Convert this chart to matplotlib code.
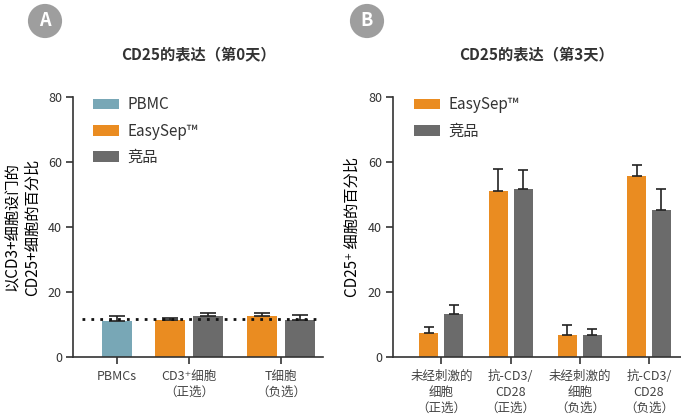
import matplotlib.pyplot as plt

plt.rcParams['font.family'] = ['Noto Sans CJK SC', 'DejaVu Sans']
plt.rcParams['text.color'] = '#333333'
plt.rcParams['axes.edgecolor'] = '#333333'
plt.rcParams['xtick.color'] = '#333333'
plt.rcParams['ytick.color'] = '#333333'

# Panel A: CD25 expression, day 0
a_labels = ['PBMCs', 'CD3⁺细胞\n（正选）', 'T细胞\n（负选）']
a_pbmc = [11.2]
a_pbmc_err = [1.3]
a_easysep = [11.5, 12.6]
a_easysep_err = [0.6, 1.0]
a_comp = [12.6, 11.5]
a_comp_err = [1.0, 1.4]
a_baseline = 11.6

# Panel B: CD25 expression, day 3
b_labels = ['未经刺激的\n细胞\n（正选）', '抗-CD3/\nCD28\n（正选）',
            '未经刺激的\n细胞\n（负选）', '抗-CD3/\nCD28\n（负选）']
b_easysep = [7.5, 51.0, 6.7, 55.6]
b_easysep_err = [1.8, 6.8, 3.0, 3.6]
b_comp = [13.2, 51.6, 6.7, 45.1]
b_comp_err = [2.7, 5.9, 1.8, 6.6]

c_pbmc = '#78A7B6'
c_easy = '#EA8C21'
c_comp = '#6B6B6B'

fig = plt.figure(figsize=(6.81, 4.17), dpi=100)
axA = fig.add_axes([73/681, 1-357/417, 250/681, 260/417])
axB = fig.add_axes([393/681, 1-357/417, 288/681, 260/417])

def style(ax):
    ax.set_ylim(0, 80)
    ax.set_yticks([0, 20, 40, 60, 80])
    ax.spines['top'].set_visible(False)
    ax.spines['right'].set_visible(False)
    for s in ['left', 'bottom']:
        ax.spines[s].set_linewidth(1.2)
    ax.tick_params(axis='y', length=5, width=1.2, labelsize=9, pad=3)
    ax.tick_params(axis='x', length=5, width=1.2, labelsize=9, pad=4, labelcolor='#444444')

def ebar(ax, x, y, e, cap):
    ax.errorbar(x, y, yerr=[[0] * len(e), e], fmt='none', ecolor='#222222',
                elinewidth=1.2, capsize=cap, capthick=1.2)

leg_kw = dict(loc='upper left', frameon=False, fontsize=11, handlelength=1.7,
              handleheight=0.7, handletextpad=0.55, labelspacing=0.6)

# ---- Panel A ----
w = 0.79
xa_p = [1.16]
xa_g = [3.05, 5.47]
off = 0.5
axA.bar(xa_p, a_pbmc, w, color=c_pbmc, label='PBMC')
axA.bar([x - off for x in xa_g], a_easysep, w, color=c_easy, label='EasySep™')
axA.bar([x + off for x in xa_g], a_comp, w, color=c_comp, label='竞品')
ebar(axA, xa_p, a_pbmc, a_pbmc_err, 5.5)
ebar(axA, [x - off for x in xa_g], a_easysep, a_easysep_err, 5.5)
ebar(axA, [x + off for x in xa_g], a_comp, a_comp_err, 5.5)
axA.axhline(a_baseline, xmin=0.036, xmax=0.976, color='#111111', ls=(0, (1, 2.2)), lw=2)
axA.set_xlim(0, 250/38)
axA.set_xticks(xa_p + xa_g)
axA.set_xticklabels(a_labels, linespacing=1.3)
style(axA)
axA.set_ylabel('以CD3+细胞设门的\nCD25+细胞的百分比', fontsize=11, labelpad=5, linespacing=1.25)
axA.legend(bbox_to_anchor=(0.025, 1.055), **leg_kw)
axA.set_title('CD25的表达（第0天）', fontsize=11, fontweight='bold', pad=27)

# ---- Panel B ----
wb = 0.275
ob = 0.18
xb = [0.70, 1.70, 2.70, 3.70]
axB.bar([x - ob for x in xb], b_easysep, wb, color=c_easy, label='EasySep™')
axB.bar([x + ob for x in xb], b_comp, wb, color=c_comp, label='竞品')
ebar(axB, [x - ob for x in xb], b_easysep, b_easysep_err, 3.6)
ebar(axB, [x + ob for x in xb], b_comp, b_comp_err, 3.6)
axB.set_xlim(0, 288/69.2)
axB.set_xticks(xb)
axB.set_xticklabels(b_labels, linespacing=1.3)
style(axB)
axB.set_ylabel('CD25⁺ 细胞的百分比', fontsize=11, labelpad=5)
axB.legend(bbox_to_anchor=(0.025, 1.055), **leg_kw)
axB.set_title('CD25的表达（第3天）', fontsize=11, fontweight='bold', pad=27)

# panel badges
for x, t in [(45/681, 'A'), (367/681, 'B')]:
    fig.text(x, 1-21/417, t, color='white', fontsize=13, fontweight='bold',
             ha='center', va='center',
             bbox=dict(boxstyle='circle,pad=0.42', fc='#9E9E9E', ec='none'))

fig.savefig('out.png', dpi=100)
